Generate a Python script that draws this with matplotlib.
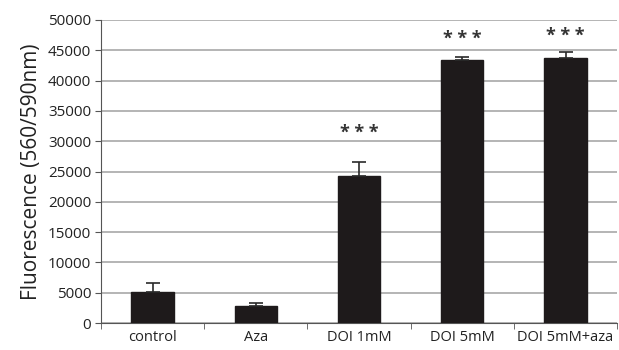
import matplotlib
matplotlib.use("Agg")
import matplotlib.pyplot as plt
import numpy as np

categories = ["control", "Aza", "DOI 1mM", "DOI 5mM", "DOI 5mM+aza"]
values = [5200, 2800, 24300, 43400, 43700]
errors = [1400, 500, 2300, 500, 1000]
stars = ["", "", "* * *", "* * *", "* * *"]
star_y = [0, 0, 29800, 45400, 45900]

plt.rcParams['font.family'] = ['Open Sans', 'DejaVu Sans']
fig = plt.figure(figsize=(6.19, 3.5), dpi=100)
ax = fig.add_axes([0.163, 0.077, 0.834, 0.866])
x = np.arange(len(categories))
ax.bar(x, values, width=0.41, color='#1e1a1b', edgecolor='#1e1a1b', zorder=3)
ax.errorbar(x, values, yerr=[np.zeros(len(values)), errors], fmt='none',
            ecolor='#2a2a2a', elinewidth=1.2, capsize=5, capthick=1.2, zorder=4)
for xi, s, sy in zip(x, stars, star_y):
    if s:
        ax.text(xi, sy, s, ha='center', va='bottom', fontsize=13,
                fontweight='bold', color='#333333')
ax.set_xlim(-0.5, len(categories) - 0.5)
ax.set_ylim(0, 50000)
ax.set_yticks(np.arange(0, 50001, 5000))
ax.yaxis.grid(True, color='#a0a0a0', linewidth=1.1, zorder=0)
ax.set_axisbelow(True)
ax.set_xticks(x)
ax.set_xticklabels(categories, fontsize=10.5, color='#222222')
ax.tick_params(axis='x', length=0, pad=5)
ax.set_xticks(np.arange(-0.5, len(categories), 1), minor=True)
ax.tick_params(axis='x', which='minor', length=4, color='#555555')
ax.tick_params(axis='y', length=4, color='#555555', labelsize=11, pad=3, labelcolor='#222222')
for s in ['top', 'right']:
    ax.spines[s].set_visible(False)
ax.spines['left'].set_color('#555555')
ax.spines['bottom'].set_color('#555555')
ax.set_ylabel("Fluorescence (560/590nm)", fontsize=15, color='#222222', labelpad=4)
fig.savefig("out.png", dpi=100)
